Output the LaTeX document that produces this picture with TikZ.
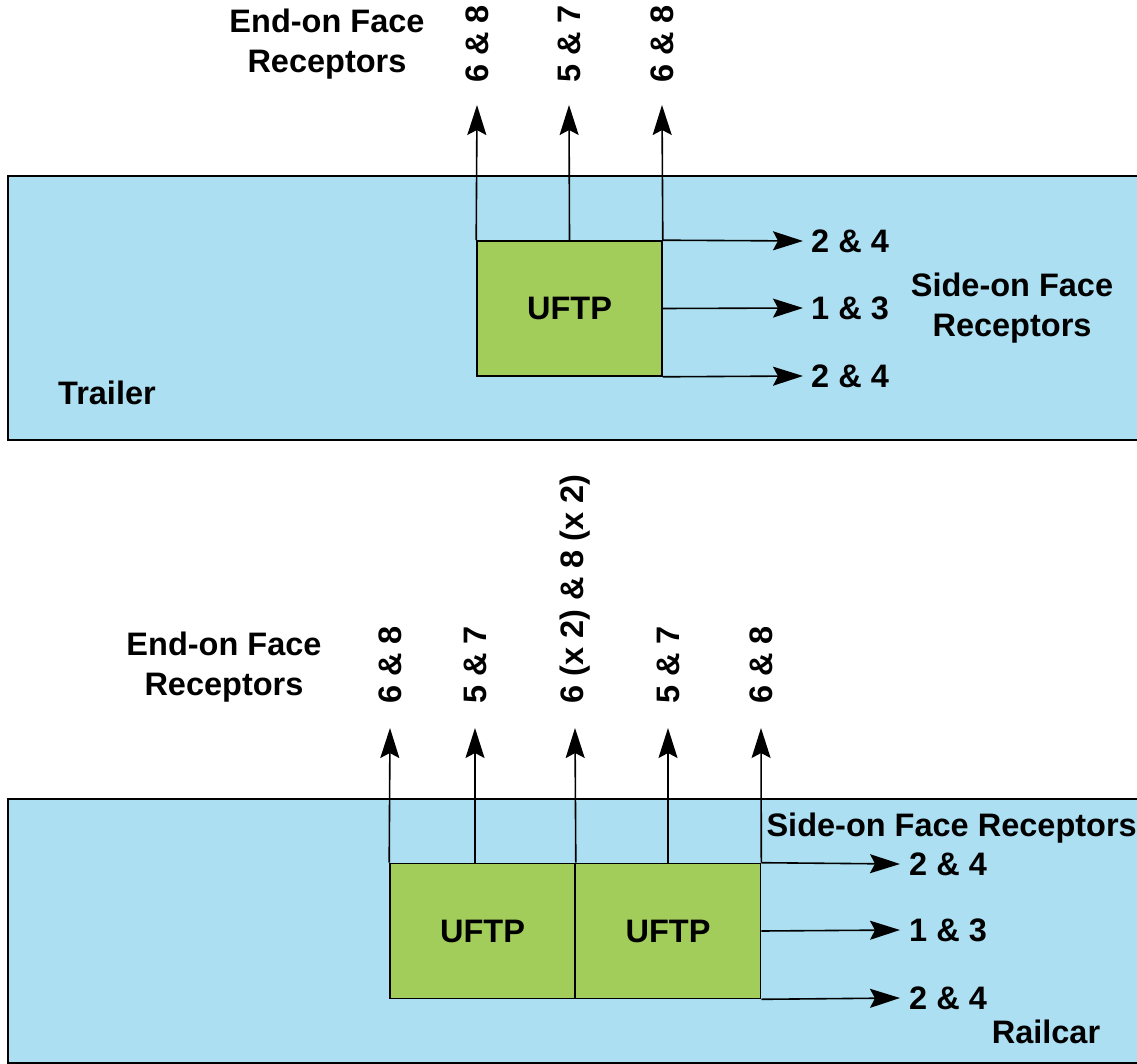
\documentclass[tikz,border=0pt]{standalone}
\usepackage{fontspec}
\setmainfont{Liberation Sans}
\usetikzlibrary{arrows.meta, positioning}

\definecolor{bandblue}{HTML}{ADDFF2}
\definecolor{boxgreen}{HTML}{A3CD5A}

\tikzset{
    band/.style={fill=bandblue, draw=black, line width=1.6pt},
    uftp/.style={fill=boxgreen, draw=black, line width=1.6pt, minimum width=185pt, minimum height=135pt, inner sep=0pt},
    lbl/.style={font=\fontsize{32.5}{40}\selectfont\bfseries, align=center, inner sep=0pt},
    vlbl/.style={lbl, rotate=90, anchor=west},
    feed/.style={line width=1.6pt, -{Stealth[length=30pt, width=19pt, inset=5pt]}}
}

\begin{document}
\begin{tikzpicture}[x=1pt, y=-1pt]
\useasboundingbox (0,0) rectangle (1137,1064);

%% trailer
\filldraw[band] (8,176) rectangle (1145,440);
\node[uftp] (tbox) at (569.5,308.5) {};
\node[lbl] at (tbox) {UFTP};
\node[lbl, anchor=west] (trailer) at (58,393) {Trailer};

% end-on
\node[lbl] (tend) at (327,44) {End-on Face\\Receptors};
\coordinate (tu1) at (477,105);
\coordinate (tu2) at (569,105);
\coordinate (tu3) at (662,105);
\node[vlbl] (tv1) at (477,83) {6 \& 8};
\node[vlbl] (tv2) at (569,83) {5 \& 7};
\node[vlbl] (tv3) at (662,83) {6 \& 8};
\draw[feed] (tbox.north west) -- (tu1);
\draw[feed] (tbox.north) -- (tu2);
\draw[feed] (tbox.north east) -- (tu3);

% side-on
\coordinate (tr1) at (803,241);
\coordinate (tr2) at (803,308);
\coordinate (tr3) at (803,376);
\node[lbl, anchor=west] (th1) at (811,241) {2 \& 4};
\node[lbl, anchor=west] (th2) at (811,308) {1 \& 3};
\node[lbl, anchor=west] (th3) at (811,376) {2 \& 4};
\draw[feed] (tbox.north east) -- (tr1);
\draw[feed] (tbox.east) -- (tr2);
\draw[feed] (tbox.south east) -- (tr3);
\node[lbl] (tside) at (1012,308) {Side-on Face\\Receptors};

%% railcar
\filldraw[band] (8,799) rectangle (1145,1063);
\node[uftp] (lbox) at (482.5,931) {};
\node[uftp] (rbox) at (668,931) {};
\node[lbl] at (lbox) {UFTP};
\node[lbl] at (rbox) {UFTP};
\node[lbl] (railcar) at (1046,1032) {Railcar};

% end-on
\node[lbl] (bend) at (224,667) {End-on Face\\Receptors};
\coordinate (bu1) at (390,728);
\coordinate (bu2) at (475,728);
\coordinate (bu3) at (575,728);
\coordinate (bu4) at (668,728);
\coordinate (bu5) at (761,728);
\node[vlbl] (bv1) at (390,704) {6 \& 8};
\node[vlbl] (bv2) at (475,704) {5 \& 7};
\node[vlbl] (bv3) at (575,704) {6 (x 2) \& 8 (x 2)};
\node[vlbl] (bv4) at (668,704) {5 \& 7};
\node[vlbl] (bv5) at (761,704) {6 \& 8};
\draw[feed] (lbox.north west) -- (bu1);
\draw[feed] (lbox.north west -| bu2) -- (bu2);
\draw[feed] (lbox.north east) -- (bu3);
\draw[feed] (rbox.north) -- (bu4);
\draw[feed] (rbox.north east) -- (bu5);

% side-on
\node[lbl, anchor=east] (bside) at (1137,828) {Side-on Face Receptors};
\coordinate (br1) at (900,864);
\coordinate (br2) at (900,930);
\coordinate (br3) at (900,998);
\node[lbl, anchor=west] (bh1) at (909,864) {2 \& 4};
\node[lbl, anchor=west] (bh2) at (909,930) {1 \& 3};
\node[lbl, anchor=west] (bh3) at (909,998) {2 \& 4};
\draw[feed] (rbox.north east) -- (br1);
\draw[feed] (rbox.east) -- (br2);
\draw[feed] (rbox.south east) -- (br3);

\end{tikzpicture}
\end{document}
